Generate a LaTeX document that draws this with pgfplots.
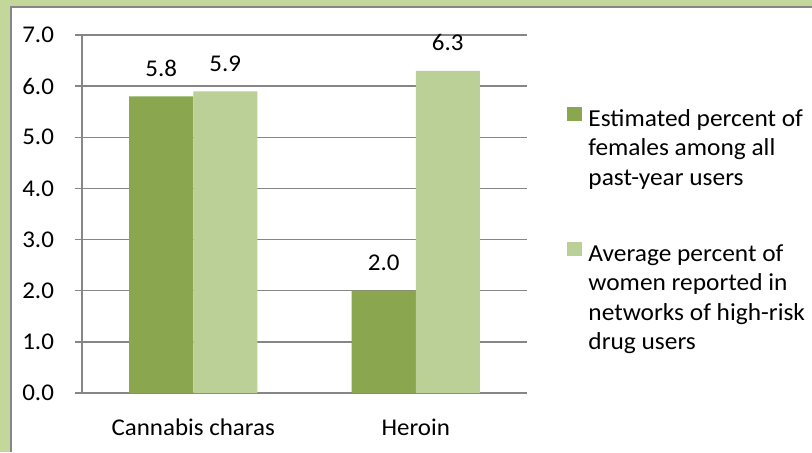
\documentclass[border=0pt]{standalone}
\usepackage{fontspec}
\setmainfont[FakeStretch=1.04]{Carlito}
\usepackage{pgfplots}
\pgfplotsset{compat=1.18}
\definecolor{framegreen}{HTML}{C4D79B}
\definecolor{darkbar}{HTML}{8AA64F}
\definecolor{lightbar}{HTML}{BBD096}
\definecolor{axgray}{HTML}{868686}

\begin{document}
\begin{tikzpicture}
% frame, in pixels from the top left
\begin{scope}[x=0.5pt,y=-0.5pt]
\fill[framegreen] (0,0) rectangle (812,452);
\fill[white] (10,6) rectangle (812,452);
\draw[axgray, line width=1pt] (11,452) -- (11,7) -- (812,7);
\end{scope}

\begin{axis}[
  at={(41pt,-196.5pt)}, anchor=south west,
  width=222.5pt, height=179pt, scale only axis,
  xmin=-0.5, xmax=1.5, ymin=0, ymax=7,
  axis lines=left, axis line style={-, axgray, line width=0.7pt},
  ybar, bar width=0.288,
  xtick={0,1}, xticklabels={Cannabis charas, Heroin},
  xtick style={draw=none},
  minor xtick={-0.5,0.5,1.5},
  minor x tick style={axgray, line width=0.7pt},
  ytick={0,1,...,7},
  y tick style={axgray, line width=0.7pt},
  major tick length=3.5pt, minor tick length=3.5pt,
  tick align=outside,
  ymajorgrids, major grid style={axgray, line width=0.7pt},
  /pgf/number format/.cd, fixed, fixed zerofill, precision=1, assume math mode=true,
  /pgfplots/.cd,
  tick label style={font=\fontsize{12}{14}\selectfont},
  yticklabel style={xshift=-7pt},
  xticklabel style={yshift=-6pt},
  nodes near coords,
  every node near coord/.append style={font=\fontsize{12}{14}\selectfont, yshift=6.5pt},
  legend style={at={(1.09,0.803)}, anchor=north west, draw=none, fill=none,
    inner sep=0pt, row sep=0pt, column sep=3pt,
    font=\fontsize{12.2}{14.75}\selectfont,
    nodes={inner sep=0pt, text height=10.25pt, text depth=4.5pt}},
  legend cell align=left,
  legend image code/.code={\fill[#1] (0pt,0pt) rectangle (7.5pt,7pt);},
]
\addplot[fill=darkbar, draw=none, bar shift=-0.144] coordinates {(0,5.8) (1,2.0)};
\addlegendentry{Estimated percent of}
\addlegendimage{empty legend}
\addlegendentry{females among all}
\addlegendimage{empty legend}
\addlegendentry[text depth=27.75pt]{past-year users}
\addplot[fill=lightbar, draw=none, bar shift=0.144] coordinates {(0,5.9) (1,6.3)};
\addlegendentry{Average percent of}
\addlegendimage{empty legend}
\addlegendentry{women reported in}
\addlegendimage{empty legend}
\addlegendentry{networks of high-risk}
\addlegendimage{empty legend}
\addlegendentry{drug users}
\end{axis}

% the page is exactly the frame
\pgfresetboundingbox
\path[use as bounding box] (0pt,0pt) rectangle (406pt,-226pt);
\end{tikzpicture}
\end{document}
